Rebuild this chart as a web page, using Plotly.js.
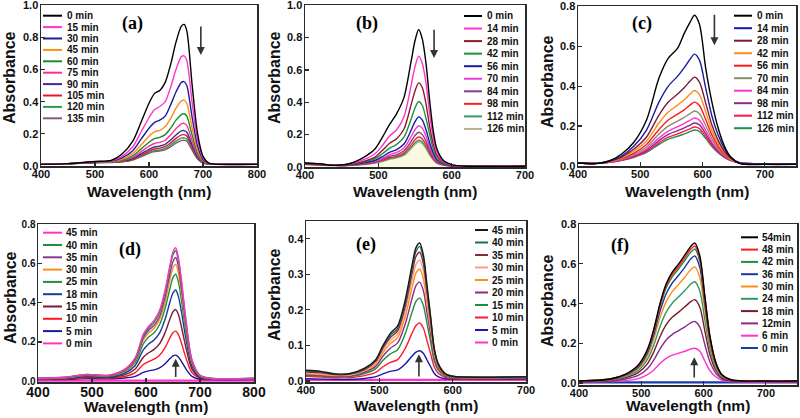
<!DOCTYPE html>
<html><head><meta charset="utf-8">
<script src="https://cdn.plot.ly/plotly-3.0.1.min.js"></script>
<style>html,body{margin:0;padding:0;background:#fff}#chart{width:800px;height:418px}</style>
</head><body><div id="chart"></div>
<script>
// ---------------- DATA ----------------
// (a)
const wl_a = [400,450,500,530,550,570,585,600,610,620,630,640,650,660,665,670,680,690,700,710,720,800];
const labels_a = ['0 min','15 min','30 min','45 min','60 min','75 min','90 min','105 min','120 min','135 min'];
const a_0   = [0.01,0.015,0.028,0.035,0.075,0.155,0.27,0.39,0.45,0.47,0.52,0.63,0.77,0.87,0.88,0.84,0.5,0.2,0.06,0.02,0.012,0.01];
const a_15  = [0.01,0.015,0.027,0.033,0.06,0.12,0.21,0.3,0.35,0.37,0.4,0.49,0.6,0.68,0.685,0.655,0.39,0.16,0.05,0.018,0.012,0.01];
const a_30  = [0.01,0.015,0.026,0.03,0.05,0.095,0.165,0.235,0.27,0.285,0.31,0.38,0.46,0.52,0.525,0.5,0.3,0.125,0.04,0.016,0.012,0.01];
const a_45  = [0.01,0.015,0.025,0.028,0.042,0.077,0.13,0.185,0.212,0.222,0.245,0.295,0.36,0.405,0.41,0.39,0.235,0.1,0.035,0.015,0.012,0.01];
const a_60  = [0.01,0.015,0.024,0.026,0.036,0.063,0.105,0.148,0.17,0.178,0.195,0.235,0.285,0.32,0.325,0.31,0.19,0.08,0.03,0.014,0.012,0.01];
const a_75  = [0.01,0.015,0.023,0.025,0.032,0.053,0.088,0.123,0.14,0.147,0.16,0.193,0.232,0.262,0.265,0.253,0.155,0.067,0.026,0.013,0.012,0.01];
const a_90  = [0.01,0.014,0.022,0.024,0.03,0.046,0.075,0.104,0.118,0.124,0.135,0.162,0.193,0.218,0.22,0.21,0.13,0.057,0.023,0.013,0.011,0.01];
const a_105 = [0.01,0.014,0.022,0.023,0.028,0.042,0.067,0.093,0.106,0.111,0.12,0.144,0.172,0.193,0.195,0.187,0.116,0.052,0.021,0.012,0.011,0.01];
const a_120 = [0.01,0.014,0.021,0.023,0.027,0.039,0.061,0.084,0.096,0.1,0.108,0.13,0.155,0.173,0.175,0.168,0.105,0.047,0.02,0.012,0.011,0.01];
const a_135 = [0.01,0.014,0.021,0.022,0.026,0.037,0.057,0.078,0.089,0.093,0.1,0.119,0.142,0.158,0.16,0.154,0.097,0.044,0.019,0.012,0.011,0.01];

// (b)
const wl_b = [400,420,440,460,480,495,505,515,525,535,545,550,555,560,565,570,575,580,590,600,620,700];
const labels_b = ['0 min','14 min','28 min','42 min','56 min','70 min','84 min','98 min','112 min','126 min'];
const b_0   = [0.025,0.02,0.01,0.02,0.06,0.11,0.18,0.26,0.33,0.43,0.66,0.78,0.85,0.79,0.64,0.41,0.22,0.11,0.035,0.015,0.005,0.005];
const b_14  = [0.025,0.02,0.01,0.018,0.045,0.08,0.13,0.19,0.23,0.31,0.51,0.62,0.685,0.64,0.52,0.33,0.18,0.09,0.03,0.012,0.005,0.005];
const b_28  = [0.022,0.018,0.01,0.015,0.035,0.06,0.1,0.145,0.175,0.235,0.39,0.47,0.52,0.49,0.39,0.25,0.14,0.07,0.025,0.01,0.005,0.005];
const b_42  = [0.02,0.016,0.01,0.013,0.03,0.05,0.08,0.115,0.14,0.185,0.3,0.365,0.405,0.38,0.3,0.2,0.11,0.055,0.02,0.01,0.005,0.005];
const b_56  = [0.02,0.015,0.01,0.012,0.025,0.04,0.063,0.09,0.108,0.142,0.23,0.28,0.31,0.29,0.23,0.15,0.085,0.043,0.017,0.008,0.005,0.005];
const b_70  = [0.018,0.014,0.01,0.011,0.022,0.035,0.053,0.075,0.09,0.117,0.19,0.23,0.255,0.24,0.19,0.125,0.07,0.036,0.015,0.008,0.005,0.005];
const b_84  = [0.018,0.014,0.01,0.011,0.02,0.031,0.046,0.065,0.077,0.1,0.16,0.195,0.215,0.2,0.16,0.105,0.06,0.031,0.013,0.007,0.005,0.005];
const b_98  = [0.017,0.013,0.01,0.01,0.018,0.028,0.041,0.057,0.067,0.087,0.138,0.168,0.185,0.173,0.138,0.09,0.052,0.027,0.012,0.007,0.005,0.005];
const b_112 = [0.017,0.013,0.01,0.01,0.017,0.026,0.037,0.051,0.06,0.078,0.123,0.15,0.165,0.155,0.123,0.081,0.047,0.025,0.011,0.007,0.005,0.005];
const b_126 = [0.016,0.013,0.01,0.01,0.016,0.025,0.035,0.048,0.057,0.073,0.116,0.141,0.155,0.146,0.116,0.076,0.044,0.024,0.011,0.007,0.005,0.005];

// (c)
const wl_c = [400,430,450,470,490,510,530,545,560,570,580,587,595,605,615,625,635,645,660,700,750];
const labels_c = ['0 min','14 min','28 min','42 min','56 min','70 min','84 min','98 min','112 min','126 min'];
const c_0   = [0.015,0.012,0.025,0.06,0.12,0.23,0.44,0.54,0.59,0.66,0.72,0.755,0.71,0.49,0.32,0.19,0.1,0.045,0.012,0.008,0.008];
const c_14  = [0.015,0.013,0.025,0.05,0.1,0.18,0.32,0.4,0.45,0.49,0.535,0.56,0.53,0.39,0.25,0.155,0.088,0.045,0.015,0.01,0.01];
const c_28  = [0.015,0.013,0.023,0.045,0.085,0.145,0.255,0.32,0.36,0.39,0.425,0.445,0.42,0.315,0.205,0.128,0.074,0.04,0.015,0.01,0.01];
const c_42  = [0.015,0.013,0.022,0.04,0.075,0.125,0.215,0.27,0.305,0.33,0.36,0.378,0.357,0.272,0.178,0.113,0.067,0.037,0.015,0.01,0.01];
const c_56  = [0.015,0.013,0.021,0.037,0.065,0.108,0.183,0.23,0.26,0.28,0.305,0.32,0.303,0.233,0.156,0.1,0.06,0.034,0.015,0.01,0.01];
const c_70  = [0.015,0.013,0.02,0.034,0.058,0.095,0.16,0.2,0.225,0.242,0.262,0.275,0.262,0.203,0.137,0.09,0.055,0.032,0.015,0.01,0.01];
const c_84  = [0.015,0.013,0.019,0.032,0.053,0.085,0.14,0.175,0.197,0.212,0.229,0.24,0.229,0.179,0.122,0.081,0.05,0.03,0.015,0.01,0.01];
const c_98  = [0.015,0.013,0.019,0.03,0.049,0.078,0.127,0.158,0.177,0.19,0.205,0.215,0.206,0.162,0.111,0.075,0.047,0.029,0.015,0.01,0.01];
const c_112 = [0.015,0.013,0.018,0.029,0.046,0.072,0.116,0.144,0.161,0.173,0.186,0.195,0.187,0.148,0.103,0.07,0.045,0.028,0.015,0.01,0.01];
const c_126 = [0.015,0.013,0.018,0.028,0.044,0.068,0.108,0.134,0.149,0.16,0.172,0.18,0.173,0.138,0.097,0.066,0.043,0.027,0.015,0.01,0.01];

// (d)
const wl_d = [400,450,490,530,560,580,595,605,615,625,635,645,650,655,660,665,675,685,700,720,800];
const labels_d = ['45 min','40 min','35 min','30 min','25 min','18 min','15 min','10 min','5 min','0 min'];
const d_45 = [0.015,0.02,0.035,0.03,0.06,0.12,0.24,0.28,0.31,0.36,0.46,0.6,0.66,0.68,0.63,0.53,0.29,0.11,0.03,0.015,0.015];
const d_40 = [0.015,0.02,0.034,0.03,0.058,0.116,0.23,0.27,0.3,0.35,0.45,0.59,0.645,0.665,0.615,0.52,0.285,0.108,0.03,0.015,0.015];
const d_35 = [0.014,0.019,0.032,0.028,0.055,0.11,0.22,0.26,0.285,0.33,0.425,0.555,0.61,0.63,0.585,0.49,0.27,0.102,0.028,0.014,0.014];
const d_30 = [0.014,0.018,0.031,0.027,0.052,0.104,0.21,0.245,0.27,0.315,0.4,0.525,0.578,0.595,0.552,0.465,0.255,0.097,0.027,0.014,0.014];
const d_25 = [0.013,0.017,0.029,0.025,0.048,0.095,0.19,0.225,0.247,0.288,0.367,0.48,0.528,0.545,0.506,0.425,0.233,0.09,0.025,0.013,0.013];
const d_18 = [0.012,0.015,0.026,0.022,0.04,0.08,0.16,0.19,0.21,0.245,0.313,0.41,0.45,0.465,0.432,0.363,0.2,0.077,0.022,0.012,0.012];
const d_15 = [0.011,0.013,0.022,0.019,0.032,0.062,0.122,0.145,0.162,0.19,0.245,0.322,0.354,0.365,0.34,0.285,0.158,0.062,0.019,0.011,0.011];
const d_10 = [0.01,0.011,0.018,0.016,0.024,0.044,0.085,0.1,0.112,0.132,0.17,0.225,0.247,0.255,0.237,0.2,0.11,0.044,0.015,0.01,0.01];
const d_5  = [0.008,0.009,0.013,0.012,0.016,0.025,0.045,0.053,0.058,0.068,0.088,0.117,0.129,0.133,0.124,0.104,0.058,0.025,0.01,0.008,0.008];
const d_0  = [0.003,0.003,0.003,0.003,0.003,0.003,0.003,0.003,0.003,0.003,0.003,0.003,0.003,0.003,0.003,0.003,0.003,0.003,0.003,0.003,0.003];

// (e)
const wl_e = [400,420,440,460,480,495,505,515,525,535,545,550,555,560,565,570,575,580,590,600,700];
const labels_e = ['45 min','40 min','35 min','30 min','25 min','20 min','15 min','10 min','5 min','0 min'];
const e_45 = [0.03,0.027,0.02,0.021,0.036,0.06,0.1,0.134,0.155,0.225,0.33,0.375,0.388,0.355,0.27,0.18,0.09,0.05,0.02,0.013,0.012];
const e_40 = [0.028,0.025,0.019,0.02,0.034,0.058,0.097,0.128,0.148,0.217,0.32,0.365,0.378,0.346,0.262,0.175,0.088,0.048,0.02,0.013,0.012];
const e_35 = [0.025,0.023,0.018,0.019,0.032,0.055,0.093,0.122,0.141,0.207,0.306,0.35,0.362,0.331,0.251,0.168,0.085,0.046,0.019,0.012,0.011];
const e_30 = [0.022,0.02,0.016,0.017,0.03,0.051,0.087,0.114,0.132,0.194,0.287,0.328,0.34,0.311,0.236,0.158,0.08,0.044,0.018,0.012,0.011];
const e_25 = [0.02,0.018,0.015,0.016,0.028,0.047,0.08,0.105,0.122,0.179,0.266,0.304,0.315,0.288,0.219,0.146,0.074,0.041,0.017,0.011,0.01];
const e_20 = [0.018,0.016,0.013,0.014,0.025,0.041,0.07,0.092,0.107,0.158,0.235,0.268,0.278,0.254,0.193,0.129,0.066,0.036,0.015,0.01,0.009];
const e_15 = [0.016,0.014,0.012,0.012,0.021,0.034,0.058,0.076,0.088,0.131,0.196,0.224,0.233,0.213,0.162,0.108,0.055,0.031,0.013,0.009,0.008];
const e_10 = [0.013,0.011,0.009,0.009,0.015,0.024,0.04,0.052,0.06,0.09,0.136,0.156,0.163,0.149,0.113,0.076,0.039,0.022,0.01,0.007,0.007];
const e_5  = [0.006,0.005,0.004,0.004,0.007,0.012,0.02,0.027,0.031,0.047,0.071,0.081,0.085,0.078,0.059,0.04,0.021,0.012,0.006,0.005,0.005];
const e_0  = [0.003,0.003,0.003,0.003,0.003,0.003,0.003,0.003,0.003,0.003,0.003,0.003,0.003,0.003,0.003,0.003,0.003,0.003,0.003,0.003,0.003];

// (f)
const wl_f = [400,450,475,495,510,520,530,540,550,560,570,580,586,594,602,610,620,630,645,700,750];
const labels_f = ['54min','48 min','42 min','36 min','30 min','24 min','18 min','12min','6 min','0 min'];
const f_54 = [0.01,0.02,0.045,0.09,0.17,0.27,0.4,0.5,0.56,0.6,0.645,0.69,0.705,0.64,0.44,0.24,0.1,0.04,0.015,0.01,0.01];
const f_48 = [0.01,0.02,0.044,0.088,0.166,0.264,0.39,0.49,0.548,0.588,0.632,0.676,0.69,0.627,0.432,0.236,0.098,0.039,0.015,0.01,0.01];
const f_42 = [0.01,0.019,0.043,0.086,0.162,0.258,0.382,0.48,0.536,0.575,0.618,0.661,0.675,0.613,0.422,0.231,0.096,0.038,0.015,0.01,0.01];
const f_36 = [0.01,0.018,0.04,0.08,0.152,0.242,0.36,0.45,0.505,0.543,0.584,0.627,0.64,0.581,0.4,0.219,0.092,0.037,0.014,0.01,0.01];
const f_30 = [0.009,0.017,0.037,0.073,0.138,0.22,0.328,0.41,0.462,0.497,0.534,0.573,0.585,0.531,0.366,0.2,0.085,0.034,0.014,0.009,0.009];
const f_24 = [0.009,0.015,0.032,0.063,0.12,0.19,0.284,0.357,0.403,0.434,0.466,0.5,0.51,0.463,0.319,0.175,0.075,0.03,0.013,0.009,0.009];
const f_18 = [0.008,0.013,0.027,0.052,0.098,0.156,0.233,0.294,0.332,0.357,0.384,0.411,0.42,0.382,0.263,0.145,0.063,0.026,0.012,0.008,0.008];
const f_12 = [0.007,0.01,0.02,0.038,0.072,0.115,0.172,0.217,0.245,0.264,0.283,0.304,0.31,0.282,0.194,0.108,0.048,0.02,0.01,0.007,0.007];
const f_6  = [0.005,0.007,0.012,0.022,0.042,0.066,0.098,0.124,0.14,0.15,0.16,0.172,0.175,0.16,0.111,0.063,0.03,0.014,0.007,0.005,0.005];
const f_0  = [0.003,0.003,0.003,0.003,0.003,0.003,0.003,0.003,0.003,0.003,0.003,0.003,0.003,0.003,0.003,0.003,0.003,0.003,0.003,0.003,0.003];

// ---------------- STYLES ----------------
const colors_a = ['#000000','#ff33cc','#1c1c9c','#ff8c1a','#1a8c2a','#ff2f8f','#3a2d9a','#e8182a','#2a9a50','#8a5a7a'];
const colors_b = ['#000000','#ff33cc','#8b1a2a','#1f8f3f','#1a1aa8','#f03cd0','#8b3a8b','#ff1f1f','#3a9a6a','#b8b088'];
const colors_c = ['#000000','#1a1aa0','#7a1a3a','#ff8c1a','#ff1a1a','#8e8a6c','#ff33cc','#8b2a8b','#ff1a4a','#1f8f4f'];
const colors_d = ['#ff33cc','#1f8f3f','#8b3a8b','#ff8c1a','#1f8f3f','#1a3aa0','#7a1a3a','#ff1a1a','#1a1aa0','#ff33cc'];
const colors_e = ['#1a1a1a','#1f6b5a','#8b2a3a','#ff9a8a','#ff8c1a','#8b2a8b','#1f8f3f','#ff1a3a','#1a1aa8','#ff33cc'];
const colors_f = ['#000000','#ff1a1a','#1f8f3f','#1a3aa0','#ff8c1a','#2e9a5e','#7a1a2a','#8b2a8b','#ff33cc','#1a3ab0'];

const W = 800, H = 418;
const px = v => v / W, py = v => 1 - v / H;
const FONT = 'Liberation Sans, Arial, sans-serif';

const panels = [
  {tag:'(a)', ax:'', wl:wl_a, ys:[a_0,a_15,a_30,a_45,a_60,a_75,a_90,a_105,a_120,a_135], labels:labels_a, colors:colors_a,
   box:[41,5,257,166], xr:[400,800], yr:[0,1.001], ydt:0.2, xfs:11, yfs:11, flat:false,
   leg:{l0:43,l1:62,tx:65,t0:15.7,dy:11.4}, tagpos:[132,24], xt:191, yt:[10,78], arrow:[696,0.69,0.876]},
  {tag:'(b)', ax:'2', wl:wl_b, ys:[b_0,b_14,b_28,b_42,b_56,b_70,b_84,b_98,b_112,b_126], labels:labels_b, colors:colors_b,
   box:[305,5,525,167], xr:[400,700], yr:[0,1.001], ydt:0.2, xfs:11, yfs:11, flat:false,
   leg:{l0:464,l1:482,tx:485,t0:16,dy:12.55}, tagpos:[367,23], xt:191, yt:[275,78], arrow:[576,0.673,0.858]},
  {tag:'(c)', ax:'3', wl:wl_c, ys:[c_0,c_14,c_28,c_42,c_56,c_70,c_84,c_98,c_112,c_126], labels:labels_c, colors:colors_c,
   box:[578,6,796,166], xr:[400,750], yr:[0,0.801], ydt:0.2, xfs:11, yfs:11, flat:false,
   leg:{l0:734,l1:752,tx:755,t0:15.7,dy:12.5}, tagpos:[642,23], xt:191, yt:[547,82], arrow:[619,0.605,0.765]},
  {tag:'(d)', ax:'4', wl:wl_d, ys:[d_45,d_40,d_35,d_30,d_25,d_18,d_15,d_10,d_5,d_0], labels:labels_d, colors:colors_d,
   box:[38,224,254,382], xr:[400,800], yr:[-0.004,0.801], ydt:0.2, xfs:14, yfs:10, flat:true,
   leg:{l0:43,l1:62,tx:64,t0:232.7,dy:12.3}, tagpos:[130,249], xt:406, yt:[10,298], arrow:[655,0.115,0.014]},
  {tag:'(e)', ax:'5', wl:wl_e, ys:[e_45,e_40,e_35,e_30,e_25,e_20,e_15,e_10,e_5,e_0], labels:labels_e, colors:colors_e,
   box:[306,221,526,382], xr:[400,700], yr:[-0.003,0.45], ydt:0.1, xfs:11, yfs:11, flat:true,
   leg:{l0:475,l1:488,tx:490,t0:230,dy:12.5}, tagpos:[366,244], xt:405, yt:[274,295], arrow:[554,0.075,0.008]},
  {tag:'(f)', ax:'6', wl:wl_f, ys:[f_54,f_48,f_42,f_36,f_30,f_24,f_18,f_12,f_6,f_0], labels:labels_f, colors:colors_f,
   box:[579,224,797,385], xr:[400,750], yr:[-0.01,0.801], ydt:0.2, xfs:11, yfs:11, flat:true,
   leg:{l0:741,l1:758,tx:760,t0:237.3,dy:12.3}, tagpos:[620,245], xt:405, yt:[547,301], arrow:[585,0.13,0.02]}
];

const traces = [], shapes = [], annotations = [];
const layout = {width:W, height:H, margin:{l:0,r:0,t:0,b:0}, showlegend:false,
  paper_bgcolor:'#fff', plot_bgcolor:'#fff', hovermode:false};

panels.forEach(p => {
  const xa = 'x' + p.ax, ya = 'y' + p.ax;
  const [l,t,r,b] = p.box;
  const axCommon = {showline:true, mirror:true, linecolor:'#2a2a2a', linewidth:1.5,
    ticks:'inside', ticklen:4, tickwidth:1.2, tickcolor:'#2a2a2a', showgrid:false, zeroline:false, fixedrange:true,
    ticklabeloverflow:'allow', ticklabelstandoff:-3};
  layout['xaxis' + p.ax] = Object.assign({}, axCommon, {domain:[px(l), px(r)], range:p.xr, dtick:100, tick0:400,
    anchor:ya, tickfont:{family:FONT, size:p.xfs, weight:'bold', color:'#111'}});
  layout['yaxis' + p.ax] = Object.assign({}, axCommon, {domain:[py(b), py(t)], range:p.yr, dtick:p.ydt,
    tick0:0, tickformat:'.1f', anchor:xa, ticklabelstandoff:-1, tickfont:{family:FONT, size:p.yfs, weight:'bold', color:'#111'}});

  // curves (draw last series first so the first-listed is on top)
  for (let i = p.ys.length - 1; i >= 0; i--) {
    const tr = {x:p.wl, y:p.ys[i], xaxis:xa, yaxis:ya, type:'scatter', mode:'lines',
      line:{color:p.colors[i], width:1.4, shape:'spline', smoothing:0.8}, name:p.labels[i]};
    if (p.tag === '(b)' && i === p.ys.length - 1) { tr.fill = 'tozeroy'; tr.fillcolor = 'rgba(251,248,222,0.9)'; tr.line.width = 1.8; }
    if (p.flat && i === p.ys.length - 1) tr.line.width = 2.4;
    traces.push(tr);
  }

  // legend
  p.labels.forEach((lab, i) => {
    const yy = p.leg.t0 + i * p.leg.dy;
    shapes.push({type:'line', xref:'paper', yref:'paper', x0:px(p.leg.l0), x1:px(p.leg.l1), y0:py(yy), y1:py(yy),
      line:{color:p.colors[i], width:2}});
    annotations.push({xref:'paper', yref:'paper', x:px(p.leg.tx), y:py(yy), xanchor:'left', yanchor:'middle',
      text:lab, showarrow:false, font:{family:FONT, size:10, weight:'bold', color:'#111'}});
  });

  // panel tag
  annotations.push({xref:'paper', yref:'paper', x:px(p.tagpos[0]), y:py(p.tagpos[1]), xanchor:'center', yanchor:'middle',
    text:p.tag, showarrow:false, font:{family:'Liberation Serif, Times New Roman, serif', size:18, weight:'bold', color:'#000'}});
  // axis titles
  annotations.push({xref:'paper', yref:'paper', x:px((l + r) / 2), y:py(p.xt), xanchor:'center', yanchor:'middle',
    text:'Wavelength (nm)', showarrow:false, font:{family:FONT, size:15.5, weight:'bold', color:'#111'}});
  annotations.push({xref:'paper', yref:'paper', x:px(p.yt[0]), y:py(p.yt[1]), xanchor:'center', yanchor:'middle',
    text:'Absorbance', textangle:-90, showarrow:false, font:{family:FONT, size:16, weight:'bold', color:'#111'}});
  // arrow
  annotations.push({xref:xa, yref:ya, axref:xa, ayref:ya, x:p.arrow[0], y:p.arrow[1], ax:p.arrow[0], ay:p.arrow[2],
    text:'', showarrow:true, arrowhead:2, arrowsize:1, arrowwidth:1.6, arrowcolor:'#333', standoff:0, startstandoff:0});
});

layout.shapes = shapes;
layout.annotations = annotations;
Plotly.newPlot('chart', traces, layout, {staticPlot:true, displayModeBar:false});
</script></body></html>
